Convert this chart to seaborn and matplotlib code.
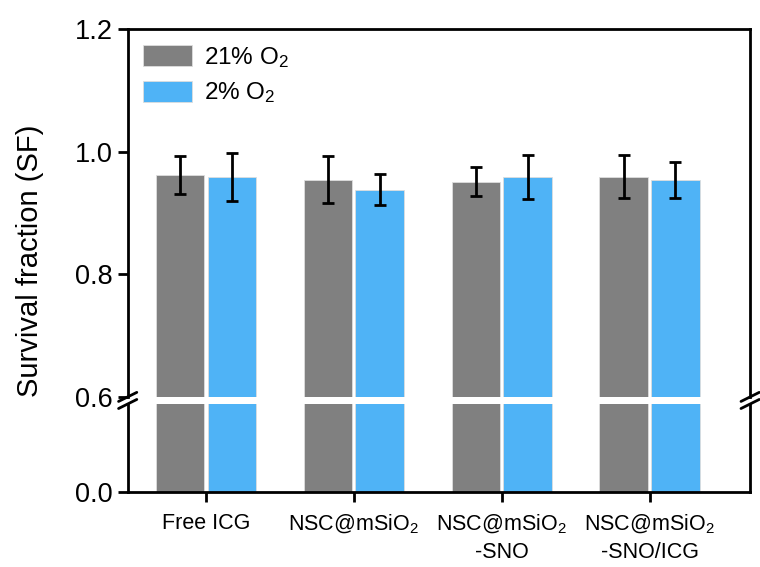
import numpy as np
import pandas as pd
import matplotlib
matplotlib.use("Agg")
import matplotlib.pyplot as plt
import seaborn as sns

# values
groups = ["Free ICG", "NSC@mSiO$_2$", "NSC@mSiO$_2$\n-SNO", "NSC@mSiO$_2$\n-SNO/ICG"]
conditions = ["21% O$_2$", "2% O$_2$"]
sf_21 = [0.962, 0.954, 0.951, 0.959]
sf_2 = [0.959, 0.938, 0.958, 0.954]
err_21 = [0.031, 0.038, 0.024, 0.035]
err_2 = [0.039, 0.025, 0.036, 0.029]

colors = ["#808080", "#4FB3F6"]

df = pd.DataFrame({
    "group": groups * 2,
    "cond": [conditions[0]] * 4 + [conditions[1]] * 4,
    "sf": sf_21 + sf_2,
})

sns.set_style("ticks")
plt.rcParams["font.family"] = ["Liberation Sans", "DejaVu Sans"]
plt.rcParams["mathtext.default"] = "regular"
plt.rcParams["text.color"] = "black"
plt.rcParams["xtick.color"] = "black"
plt.rcParams["ytick.color"] = "black"

fig = plt.figure(figsize=(7.6, 5.67), dpi=100)
left, right = 0.168, 0.987
ax_top = fig.add_axes([left, 0.300, right - left, 0.949 - 0.300])
ax_bot = fig.add_axes([left, 0.132, right - left, 0.2875 - 0.132])

for ax in (ax_top, ax_bot):
    sns.barplot(data=df, x="group", y="sf", hue="cond", hue_order=conditions,
                order=groups, palette=colors, saturation=1, width=0.7, gap=0.06,
                edgecolor="#dddddd", linewidth=0.6, ax=ax, legend=(ax is ax_top))
    ax.set_xlim(-0.53, 3.68)
    for s in ax.spines.values():
        s.set_linewidth(2)
        s.set_color("black")
    ax.tick_params(axis="both", width=2, length=7, color="black",
                   direction="out", pad=4)
    ax.set_xlabel("")
    ax.set_ylabel("")

# error bars on the upper axes, at the bar centers seaborn drew
for cont, errs in zip(ax_top.containers, [err_21, err_2]):
    xs = [p.get_x() + p.get_width() / 2 for p in cont.patches]
    ys = [p.get_height() for p in cont.patches]
    ax_top.errorbar(xs, ys, yerr=errs, fmt="none", ecolor="black",
                    elinewidth=2, capsize=4.5, capthick=2)

ax_top.set_ylim(0.6, 1.2)
ax_top.set_yticks([0.6, 0.8, 1.0, 1.2])
ax_top.set_yticklabels(["0.6", "0.8", "1.0", "1.2"], fontsize=19.5)
ax_top.spines["bottom"].set_visible(False)
ax_top.tick_params(axis="x", bottom=False, labelbottom=False)

ax_bot.set_ylim(0, 0.144)
ax_bot.set_yticks([0.0])
ax_bot.set_yticklabels(["0.0"], fontsize=19.5)
ax_bot.spines["top"].set_visible(False)
ax_bot.set_xticks(range(4))
ax_bot.set_xticklabels(groups, fontsize=15.5, linespacing=1.35)
ax_bot.tick_params(axis="x", pad=8)

fig.text(0.04, 0.54, "Survival fraction (SF)", rotation=90, fontsize=21,
         ha="center", va="center")

leg = ax_top.legend(loc="upper left", frameon=False, fontsize=17.5,
                    handlelength=2.0, handleheight=0.95, labelspacing=0.45,
                    borderaxespad=0.25, handletextpad=0.5)
for h in leg.legend_handles:
    h.set_edgecolor("#dddddd")

# break marks on both spines
for xf in (left, right):
    for yf in (0.300, 0.2875):
        fig.add_artist(plt.Line2D([xf - 0.012, xf + 0.012], [yf - 0.008, yf + 0.008],
                                  color="black", lw=2, transform=fig.transFigure))

fig.savefig("out.png", dpi=100)
